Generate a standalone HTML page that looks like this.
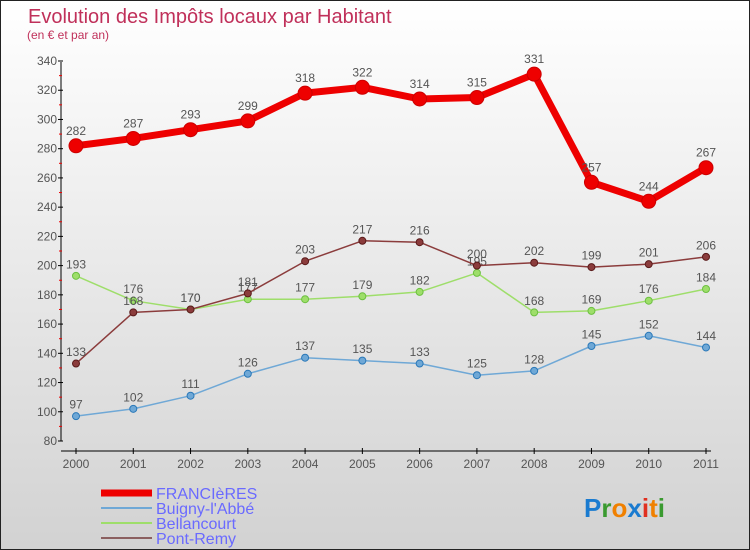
<!DOCTYPE html>
<html><head><meta charset="utf-8"><style>
body{margin:0}
#c{width:750px;height:550px;position:relative;overflow:hidden;box-sizing:border-box;border:1px solid #222;background:linear-gradient(#ffffff,#d2d2d2);font-family:"Liberation Sans","DejaVu Sans",sans-serif}
</style></head><body>
<div id="c">
<svg id="s" width="750" height="550"></svg>
</div>
<script>
const years=["2000","2001","2002","2003","2004","2005","2006","2007","2008","2009","2010","2011"];
const francieres=[282,287,293,299,318,322,314,315,331,257,244,267];
const buigny=[97,102,111,126,137,135,133,125,128,145,152,144];
const bellancourt=[193,176,170,177,177,179,182,195,168,169,176,184];
const pontRemy=[133,168,170,181,203,217,216,200,202,199,201,206];
const yTicks=[80,100,120,140,160,180,200,220,240,260,280,300,320,340];
const NS="http://www.w3.org/2000/svg";
const s=document.getElementById('s');
function el(t,a,p){const e=document.createElementNS(NS,t);for(const k in a)e.setAttribute(k,a[k]);(p||s).appendChild(e);return e;}
const yS=v=>440-(v-80)*380/260;
const xS=i=>75+i*(630/11);
let t=el('text',{x:27,y:22,'font-size':20,fill:'#c0305a'});t.textContent='Evolution des Impôts locaux par Habitant';

t=el('text',{x:26,y:38,'font-size':12,fill:'#c0305a'});t.textContent='(en € et par an)';

let g=el('g',{});
el('line',{x1:60,y1:61,x2:60,y2:440,stroke:'#000'},g);
yTicks.forEach((v,i)=>{const y=yS(v);el('line',{x1:57,x2:62,y1:y,y2:y,stroke:'#000'},g);
if(i<yTicks.length-1){const ym=yS(v+10);el('line',{x1:58,x2:61,y1:ym,y2:ym,stroke:'#e00'},g);}
const tx=el('text',{x:56,y:y+4,'font-size':12,fill:'#555','text-anchor':'end'},g);tx.textContent=v;});
g=el('g',{});
el('line',{x1:60,y1:450,x2:710,y2:450,stroke:'#000'},g);
years.forEach((y,i)=>{const x=xS(i);el('line',{x1:x,x2:x,y1:447,y2:453,stroke:'#000'},g);
const tx=el('text',{x:x,y:467,'font-size':12,fill:'#555','text-anchor':'middle'},g);tx.textContent=y;});
function series(data,color,dark,w,r,name){
const gg=el('g',{});
el('polyline',{points:data.map((v,i)=>xS(i)+','+yS(v)).join(' '),fill:'none',stroke:color,'stroke-width':w,'stroke-linejoin':'round'},gg);
data.forEach((v,i)=>{const c=el('circle',{cx:xS(i),cy:yS(v),r:r,fill:color,stroke:dark,'stroke-width':1},gg);

const tx=el('text',{x:xS(i),y:yS(v)-r-4,'font-size':12,fill:'#555','text-anchor':'middle'},gg);tx.textContent=v;});
}
series(buigny,'#6fa8d6','#2a78b8',1.5,3.5,'series-buigny');
series(bellancourt,'#9ede6a','#6cc040',1.5,3.5,'series-bellancourt');
series(pontRemy,'#8b3c3c','#5a1a1a',1.5,3.5,'series-pont-remy');
series(francieres,'#ee0000','#cc0000',7,7,'series-francieres');
const leg=[['FRANCIèRES','#ee0000',7],['Buigny-l\'Abbé','#6fa8d6',2],['Bellancourt','#9ede6a',2],['Pont-Remy','#8b6060',2]];
leg.forEach((l,i)=>{const gg=el('g',{});
const y=492+i*15;el('line',{x1:100,x2:151,y1:y,y2:y,stroke:l[1],'stroke-width':l[2]},gg);
const tx=el('text',{x:155,y:y+6,'font-size':16,fill:'#6a6aff'},gg);tx.textContent=l[0];});
const logo=el('text',{x:583,y:516,'font-size':26,'font-weight':'bold'});
[['P','#1a7bd0'],['r','#3a9a30'],['o','#f08000'],['x','#1a7bd0'],['i','#e03020'],['t','#f08000'],['i','#3a9a30']].forEach(p=>{const ts=el('tspan',{fill:p[1]},logo);ts.textContent=p[0];});
</script>
</body></html>
